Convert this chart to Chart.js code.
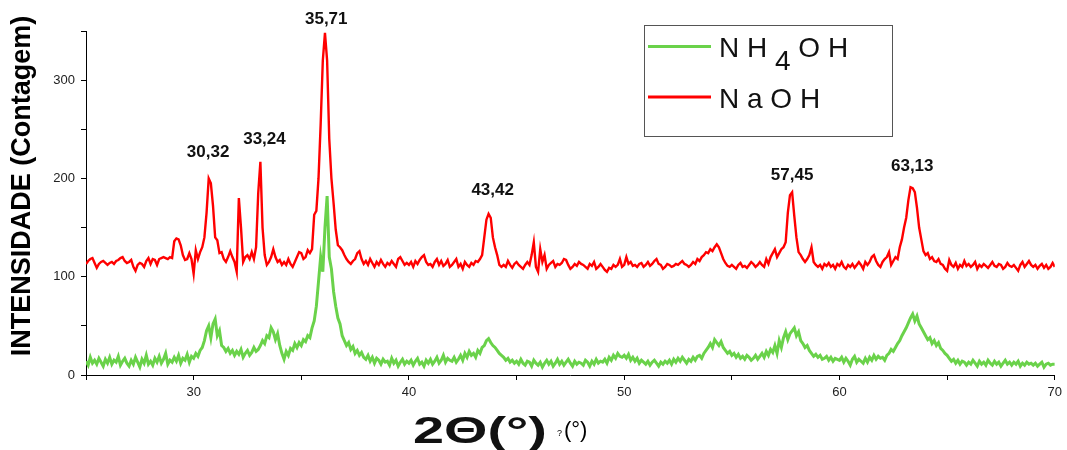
<!DOCTYPE html>
<html>
<head>
<meta charset="utf-8">
<script src="https://cdn.jsdelivr.net/npm/chart.js@4.4.0/dist/chart.umd.min.js"></script>
<style>
    html, body { margin: 0; padding: 0; background: #fff; }
    #wrap { width: 1067px; height: 450px; position: relative; }
</style>
</head>
<body>
<div id="wrap"><canvas id="xrd"></canvas></div>
<script>
// 2-theta sampling, 25 to 70 every 0.1 degree
const thetaStart = 25;
const thetaStep = 0.1;
const thetaCount = 451;

// NaOH (red) intensity, one row per degree
const naoh = [
    113,116,118,119,114,109,113,115,116,114,
    112,114,115,113,116,117,119,120,116,114,
    115,117,110,106,112,114,113,110,116,119,
    113,118,117,112,118,119,120,119,118,120,
    119,136,139,138,132,122,117,118,124,118,
    103,127,118,125,130,140,165,200,195,172,
    140,137,124,125,118,115,120,126,120,115,
    105,180,150,115,120,122,118,125,118,130,
    185,217,150,122,112,115,120,128,120,115,
    117,112,115,112,118,113,110,115,120,125,
    124,118,120,127,124,128,163,167,200,255,
    320,348,320,240,200,175,148,132,130,127,
    122,118,115,113,116,118,124,126,118,113,
    116,112,118,114,110,115,112,117,113,110,
    114,112,116,113,110,118,120,116,112,114,
    112,115,110,116,113,117,120,122,115,112,
    113,110,115,118,112,116,111,113,117,110,
    112,115,118,110,113,108,115,112,110,114,
    112,116,115,118,122,140,158,164,160,140,
    130,122,112,110,112,110,116,112,109,113,
    115,112,110,108,112,115,112,122,135,110,
    105,128,115,122,108,112,114,116,110,113,
    112,114,118,117,112,108,110,113,111,115,
    113,112,110,108,113,111,115,108,110,113,
    110,107,105,109,108,112,110,112,118,110,
    112,120,113,115,111,112,110,113,114,110,
    112,115,111,113,116,118,113,112,108,110,
    113,112,110,111,113,112,114,116,113,112,
    110,112,115,113,118,116,120,122,125,124,
    128,126,130,133,130,124,118,114,111,110,
    112,110,108,112,114,110,111,109,112,115,
    113,110,112,115,112,110,118,113,120,124,
    128,120,124,128,130,135,165,183,186,162,
    140,125,122,118,115,118,122,130,115,112,
    110,112,108,113,111,114,110,112,108,113,
    111,115,110,108,112,110,113,109,112,115,
    112,108,115,112,115,120,122,116,112,110,
    115,118,120,125,112,116,120,118,130,138,
    150,160,178,191,190,186,170,150,138,126,
    122,124,118,120,116,115,118,113,112,108,
    106,117,112,110,114,108,112,110,116,111,
    113,110,112,115,108,112,110,113,111,109,
    112,115,111,110,113,112,108,110,114,111,
    110,112,109,106,112,115,110,113,116,112,
    110,112,108,111,113,109,112,108,110,114,
    110
];

// NH4OH (green) intensity, one row per degree
const nh4oh = [
    14,10,18,12,15,11,17,13,9,16,
    12,18,11,15,13,19,10,14,17,12,
    9,15,11,18,13,8,16,12,20,11,
    14,10,17,13,19,12,16,22,11,15,
    13,18,14,20,12,17,15,21,13,19,
    17,22,19,25,28,35,45,50,38,52,
    57,40,45,30,28,24,27,22,25,20,
    24,21,26,18,22,25,20,23,28,24,
    26,30,35,32,40,38,48,44,36,42,
    30,22,16,24,20,27,25,32,28,33,
    30,36,34,40,38,48,55,70,95,120,
    105,150,182,120,108,85,70,58,52,40,
    35,30,33,26,29,22,25,20,23,18,
    16,20,14,18,12,17,15,11,16,13,
    14,10,17,12,15,9,13,16,11,14,
    12,15,10,14,17,11,13,9,15,12,
    16,11,14,18,12,15,20,13,17,15,
    14,18,13,16,20,15,22,18,24,20,
    22,18,25,22,28,30,35,37,33,30,
    28,25,22,20,18,15,17,13,15,12,
    14,11,16,12,10,14,13,9,15,12,
    10,13,8,12,15,11,14,9,12,16,
    11,14,10,13,16,12,9,14,11,13,
    12,10,15,13,9,14,11,16,12,14,
    13,16,12,18,15,20,17,22,19,18,
    20,17,21,15,18,14,17,12,15,13,
    11,14,10,13,15,12,9,13,11,14,
    12,15,11,16,13,17,14,18,15,12,
    16,14,18,15,19,20,17,22,25,28,
    32,28,36,33,30,34,28,25,22,24,
    20,22,18,21,17,19,16,20,18,15,
    17,20,16,19,22,18,24,20,26,23,
    30,22,35,28,38,44,36,42,45,48,
    40,44,35,32,28,30,25,22,19,21,
    18,20,16,17,19,15,18,14,17,16,
    15,18,13,17,14,10,16,19,13,16,
    14,12,17,13,18,15,20,16,19,17,
    18,15,20,22,26,24,28,32,35,40,
    44,48,53,58,62,55,60,52,48,44,
    40,36,38,32,35,30,33,27,25,22,
    20,17,14,16,12,15,11,14,13,10,
    13,11,15,12,9,14,11,13,10,15,
    12,10,14,11,13,9,12,15,11,13,
    10,13,11,14,9,12,10,13,11,12,
    10,12,9,11,13,8,11,12,10,11,
    11
];

// peak annotations
const peakText = ["30,32", "33,24", "35,71", "43,42", "57,45", "63,13"];
const peakTheta = [30.67, 33.29, 36.16, 43.89, 57.8, 63.38];
const peakLabelY = [227, 240, 362, 188, 203, 212];

const yTitle = "INTENSIDADE (Contagem)";
const fontFam = "'Liberation Sans', Arial, sans-serif";

const theta = Array.from({ length: thetaCount }, (_, i) => +(thetaStart + i * thetaStep).toFixed(1));
const toPoints = (vals) => vals.map((v, i) => ({ x: theta[i], y: v }));

const overlay = {
    id: "overlay",
    afterDraw(chart) {
        const ctx = chart.ctx;
        const xs = chart.scales.x;
        const ys = chart.scales.y;

        // y axis title
        ctx.save();
        ctx.translate(23, 186);
        ctx.rotate(-Math.PI / 2);
        ctx.font = "bold 27px " + fontFam;
        ctx.fillStyle = "#000";
        ctx.textAlign = "center";
        ctx.textBaseline = "middle";
        ctx.fillText(yTitle, 0, 0);
        ctx.restore();

        // x axis title (stretched, as in the original figure)
        ctx.save();
        ctx.translate(413, 443);
        ctx.scale(1.55, 1);
        ctx.font = "bold 36px " + fontFam;
        ctx.fillStyle = "#111";
        ctx.textBaseline = "alphabetic";
        ctx.fillText("2\u0398(\u00b0)", 0, 0);
        ctx.restore();
        ctx.save();
        ctx.fillStyle = "#000";
        ctx.font = "9px " + fontFam;
        ctx.fillText("?", 557, 436);
        ctx.font = "22px " + fontFam;
        ctx.fillText("(\u00b0)", 564, 437);
        ctx.restore();

        // peak labels
        ctx.save();
        ctx.font = "bold 17px " + fontFam;
        ctx.fillStyle = "#111";
        ctx.textAlign = "center";
        ctx.textBaseline = "middle";
        peakText.forEach((t, i) => {
            ctx.fillText(t, xs.getPixelForValue(peakTheta[i]), ys.getPixelForValue(peakLabelY[i]));
        });
        ctx.restore();

        // legend box
        ctx.save();
        ctx.strokeStyle = "#555";
        ctx.lineWidth = 1;
        ctx.strokeRect(644.5, 25.5, 248, 111);
        const ds = chart.data.datasets;
        [46.5, 97].forEach((y, i) => {
            ctx.strokeStyle = ds[i].borderColor;
            ctx.lineWidth = 3;
            ctx.beginPath();
            ctx.moveTo(648, y);
            ctx.lineTo(711, y);
            ctx.stroke();
        });
        ctx.fillStyle = "#111";
        ctx.font = "28px " + fontFam;
        ctx.textBaseline = "alphabetic";
        let x = 719;
        ctx.fillText("N H ", x, 57);
        x += ctx.measureText("N H ").width;
        ctx.fillText("4", x, 70);
        x += ctx.measureText("4").width;
        ctx.fillText(" O H", x, 57);
        ctx.fillText("N a O H", 719, 108);
        ctx.restore();
    }
};

new Chart(document.getElementById("xrd"), {
    type: "line",
    data: {
        datasets: [
            {
                label: "NH4OH",
                data: toPoints(nh4oh),
                borderColor: "#6ad24a",
                borderWidth: 3,
                pointRadius: 0,
                tension: 0,
            },
            {
                label: "NaOH",
                data: toPoints(naoh),
                borderColor: "#ff0000",
                borderWidth: 2.4,
                pointRadius: 0,
                tension: 0,
            },
        ],
    },
    options: {
        responsive: true,
        maintainAspectRatio: false,
        animation: false,
        layout: { padding: { top: 31, right: 10, left: 0, bottom: 0 } },
        plugins: {
            legend: { display: false },
            tooltip: { enabled: false },
        },
        scales: {
            x: {
                type: "linear",
                min: 25,
                max: 70,
                ticks: {
                    stepSize: 5,
                    autoSkip: false,
                    maxRotation: 0,
                    padding: 5,
                    color: "#222",
                    font: { size: 13, family: fontFam },
                    callback: (v) => (v % 10 === 0 ? v : ""),
                },
                grid: { drawOnChartArea: false, tickLength: 5, color: "#000" },
                border: { display: true, color: "#000", width: 1 },
                afterFit: (s) => { s.height = 75; },
            },
            y: {
                min: 0,
                max: 350,
                ticks: {
                    stepSize: 50,
                    autoSkip: false,
                    padding: 6,
                    color: "#222",
                    font: { size: 13, family: fontFam },
                    callback: (v) => (v % 100 === 0 ? v : ""),
                },
                grid: { drawOnChartArea: false, tickLength: 5, color: "#000" },
                border: { display: true, color: "#000", width: 1 },
                afterFit: (s) => { s.width = 86; },
            },
        },
    },
    plugins: [overlay],
});
</script>
</body>
</html>
